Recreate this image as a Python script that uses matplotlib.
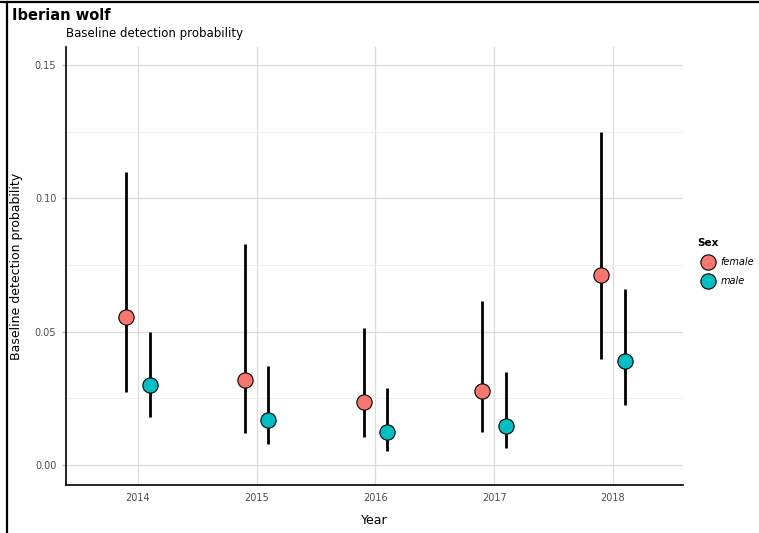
import numpy as np
import matplotlib.pyplot as plt
from matplotlib.lines import Line2D

years = ['2014', '2015', '2016', '2017', '2018']
female_est = [0.0555, 0.0319, 0.0236, 0.0277, 0.0712]
female_lo = [0.0274, 0.0120, 0.0105, 0.0124, 0.0397]
female_hi = [0.1100, 0.0829, 0.0514, 0.0615, 0.1250]
male_est = [0.0300, 0.0169, 0.0124, 0.0146, 0.0390]
male_lo = [0.0180, 0.0079, 0.0052, 0.0064, 0.0225]
male_hi = [0.0500, 0.0371, 0.0289, 0.0349, 0.0660]

W, H = 759, 533
fig = plt.figure(figsize=(W / 100, H / 100), dpi=100)
# axes box in pixels: left 66, right 683, top 47, bottom 485
ax = fig.add_axes([66 / W, 1 - 485 / H, (683 - 66) / W, (485 - 47) / H])

x = np.arange(len(years))
dodge = 0.1
for est, lo, hi, col, off in [(female_est, female_lo, female_hi, '#F8766D', -dodge),
                              (male_est, male_lo, male_hi, '#00BFC4', dodge)]:
    xs = x + off
    ax.vlines(xs, lo, hi, color='black', lw=2.0, zorder=3)
    ax.plot(xs, est, 'o', ms=11, mfc=col, mec='black', mew=0.8, zorder=4)

ax.set_xlim(-0.605, 4.59)
ax.set_ylim(-0.0075, 0.1567)
ax.set_xticks(x)
ax.set_xticklabels(years)
ax.set_yticks([0.0, 0.05, 0.10, 0.15])
ax.set_yticklabels(['0.00', '0.05', '0.10', '0.15'])
ax.set_yticks([0.025, 0.075, 0.125], minor=True)

ax.grid(True, which='major', color='#DCDCDC', lw=0.9, zorder=0)
ax.grid(True, which='minor', axis='y', color='#EFEFEF', lw=0.6, zorder=0)
ax.set_axisbelow(True)
ax.tick_params(axis='y', which='major', length=3, color='#BBBBBB', labelsize=7, labelcolor='#4D4D4D', pad=4)
ax.tick_params(axis='y', which='minor', length=0)
ax.tick_params(axis='x', length=0, labelsize=7, labelcolor='#4D4D4D', pad=6)
for s in ['top', 'right']:
    ax.spines[s].set_visible(False)
for s in ['left', 'bottom']:
    ax.spines[s].set_linewidth(1.2)
    ax.spines[s].set_color('black')

ax.set_xlabel('Year', fontsize=9)
ax.set_ylabel('Baseline detection probability', fontsize=9)
# place axis labels at pixel positions of the reference
ax.xaxis.set_label_coords(0.5, -(521 - 485) / (485 - 47))
ax.xaxis.label.set_va('center')
ax.yaxis.set_label_coords(-(66 - 17) / (683 - 66), 0.5)
ax.yaxis.label.set_va('center')

fig.text(12 / W, 1 - 15 / H, 'Iberian wolf', fontsize=10.5, fontweight='bold', va='center')
fig.text(66 / W, 1 - 33 / H, 'Baseline detection probability', fontsize=8.5, va='center')

# legend
handles = [Line2D([], [], ls='', marker='o', ms=11, mfc='#F8766D', mec='black', mew=0.8),
           Line2D([], [], ls='', marker='o', ms=11, mfc='#00BFC4', mec='black', mew=0.8)]
leg = fig.legend(handles, ['female', 'male'], title='Sex', loc='upper left',
                 bbox_to_anchor=(697 / W, 1 - 238 / H), frameon=False,
                 prop={'style': 'italic', 'size': 7}, title_fontproperties={'weight': 'bold', 'size': 7.5},
                 handletextpad=0.2, labelspacing=0.95, borderaxespad=0, borderpad=0,
                 handlelength=2.2)
leg._legend_box.align = 'left'

# outer frame (top and left edges)
fig.add_artist(Line2D([0, 1], [1 - 2 / H, 1 - 2 / H], color='black', lw=1.6, transform=fig.transFigure))
fig.add_artist(Line2D([7 / W, 7 / W], [0, 1 - 2 / H], color='black', lw=1.6, transform=fig.transFigure))

fig.savefig('out.png', dpi=100)
